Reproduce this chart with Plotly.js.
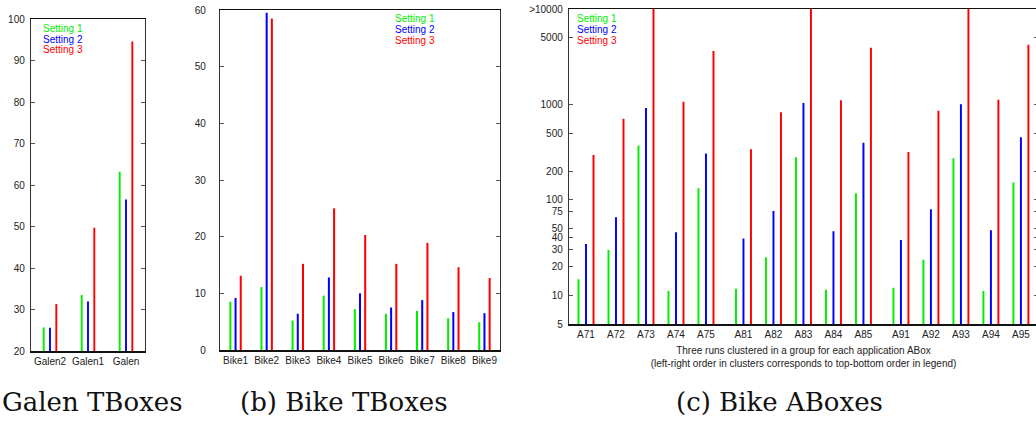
<!DOCTYPE html>
<html>
<head>
<meta charset="utf-8">
<script src="https://cdn.plot.ly/plotly-3.0.1.min.js"></script>
<style>
html, body { margin: 0; padding: 0; background: #fff; overflow: hidden; }
#chart { width: 1040px; height: 422px; }
</style>
</head>
<body>
<div id="chart"></div>
<script>
// ---- Data ----
const seriesNames = ['Setting 1', 'Setting 2', 'Setting 3'];
const seriesColors = ['#00ee00', '#0000ff', '#ff0000'];

const galenCats = ['Galen2', 'Galen1', 'Galen'];
const galenS1 = [25.7, 33.5, 63.2];
const galenS2 = [25.6, 31.9, 56.5];
const galenS3 = [31.3, 49.7, 94.6];

const bikeCats = ['Bike1', 'Bike2', 'Bike3', 'Bike4', 'Bike5', 'Bike6', 'Bike7', 'Bike8', 'Bike9'];
const bikeS1 = [8.5, 11.1, 5.2, 9.6, 7.2, 6.4, 6.9, 5.6, 4.9];
const bikeS2 = [9.2, 59.5, 6.4, 12.8, 10.0, 7.5, 8.8, 6.7, 6.5];
const bikeS3 = [13.1, 58.5, 15.2, 25.0, 20.3, 15.2, 18.9, 14.6, 12.7];

const aboxCats = ['A71', 'A72', 'A73', 'A74', 'A75',
                  'A81', 'A82', 'A83', 'A84', 'A85',
                  'A91', 'A92', 'A93', 'A94', 'A95'];
// 10000 stands for ">10000" (clipped at the top of the axis)
const aboxS1 = [14.7, 29.9, 371, 11.1, 132, 11.7, 25, 280, 11.4, 117, 12.0, 23.5, 273, 11.1, 152];
const aboxS2 = [34.5, 65.7, 915, 45.8, 306, 39.3, 76.6, 1032, 46.9, 396, 38, 79.8, 1007, 48, 454];
const aboxS3 = [296, 707, 10000, 1066, 3622, 340, 830, 10000, 1109, 3926, 318, 857, 10000, 1118, 4222];

const aboxTickVals = [5, 10, 20, 30, 40, 50, 75, 100, 200, 500, 1000, 5000, 10000];
const aboxTickText = ['5', '10', '20', '30', '40', '50', '75', '100', '200', '500', '1000', '5000', '>10000'];

const captions = ['Galen TBoxes', '(b) Bike TBoxes', '(c) Bike ABoxes'];
const aboxTitle = 'Three runs clustered in a group for each application ABox<br>(left-right order in clusters corresponds to top-bottom order in legend)';

// ---- Geometry helpers ----
const W = 1040, H = 422;
const px = v => v / W;
const py = v => 1 - v / H;

const galenX = galenCats.map((c, i) => i);
const bikeX = bikeCats.map((c, i) => i);
const perGroup = 5, groupGap = 0.25;
const aboxX = aboxCats.map((c, i) => Math.floor(i / perGroup) * (perGroup + groupGap) + (i % perGroup));

function barTraces(xs, seriesList, xa, ya, spread, w) {
  return seriesList.map((vals, k) => ({
    type: 'bar',
    x: xs,
    y: vals,
    name: seriesNames[k],
    xaxis: xa,
    yaxis: ya,
    width: w,
    offset: (k - 1) * spread - w / 2,
    marker: { color: seriesColors[k], line: { width: 0 } },
    showlegend: false,
    hoverinfo: 'x+y+name'
  }));
}

const traces = [].concat(
  barTraces(galenX, [galenS1, galenS2, galenS3], 'x', 'y', 0.166, 0.05),
  barTraces(bikeX, [bikeS1, bikeS2, bikeS3], 'x2', 'y2', 0.167, 0.065),
  barTraces(aboxX, [aboxS1, aboxS2, aboxS3], 'x3', 'y3', 0.25, 0.065)
);

const tickFont = { family: 'Liberation Sans, Arial, sans-serif', size: 10, color: '#222' };
const frame = { showline: true, linecolor: '#333', linewidth: 1.2, mirror: true, showgrid: false, zeroline: false };

function xAxis(domain, anchor, vals, text, range) {
  return Object.assign({}, frame, {
    domain: domain, anchor: anchor, range: range, tickmode: 'array', tickvals: vals, ticktext: text,
    ticks: '', tickfont: tickFont, fixedrange: true, linecolor: '#111', linewidth: 1.5
  });
}
function yAxis(domain, anchor, extra) {
  return Object.assign({}, frame, {
    domain: domain, anchor: anchor, ticks: 'inside', ticklen: 4, tickwidth: 1, tickcolor: '#555',
    mirror: 'ticks', tickfont: tickFont, fixedrange: true
  }, extra);
}

const annotations = [];
function legendAt(x0, ys) {
  seriesNames.forEach((n, k) => {
    annotations.push({
      xref: 'paper', yref: 'paper', x: px(x0), y: py(ys[k]),
      xanchor: 'left', yanchor: 'middle', showarrow: false,
      text: n, font: { family: 'Liberation Sans, Arial, sans-serif', size: 10, color: seriesColors[k] }
    });
  });
}
legendAt(41, [28.3, 39, 49.7]);
legendAt(393, [19, 29.5, 40.3]);
legendAt(575, [19, 29.5, 40.3]);

const capCenters = [92, 344, 779];
captions.forEach((c, i) => {
  annotations.push({
    xref: 'paper', yref: 'paper', x: px(capCenters[i]), y: py(402),
    xanchor: 'center', yanchor: 'middle', showarrow: false,
    text: c, font: { family: 'DejaVu Serif, serif', size: 26, color: '#111' }
  });
});

const layout = {
  width: W, height: H,
  margin: { l: 0, r: 0, t: 0, b: 0 },
  paper_bgcolor: '#fff', plot_bgcolor: '#fff',
  barmode: 'overlay',
  showlegend: false,
  xaxis: xAxis([px(31), px(145)], 'y', galenX, galenCats, [-0.5, 2.5]),
  yaxis: yAxis([py(351), py(19)], 'x', { range: [20, 100], dtick: 10, ticklabelstandoff: 3 }),
  xaxis2: xAxis([px(220), px(500)], 'y2', bikeX, bikeCats, [-0.5, 8.5]),
  yaxis2: yAxis([py(350), py(10)], 'x2', { range: [0, 60], dtick: 10, ticklabelstandoff: 11 }),
  xaxis3: Object.assign(xAxis([px(569), px(1038)], 'y3', aboxX, aboxCats, [-0.567, 15.07]), {
    title: { text: aboxTitle, font: { family: 'Liberation Sans, Arial, sans-serif', size: 10, color: '#222' }, standoff: 8 }
  }),
  yaxis3: yAxis([py(324), py(9)], 'x3', {
    type: 'log', range: [Math.log10(5), 4], tickmode: 'array',
    tickvals: aboxTickVals, ticktext: aboxTickText, ticklabelstandoff: 3
  }),
  annotations: annotations
};

Plotly.newPlot('chart', traces, layout, { displayModeBar: false, staticPlot: true });
</script>
</body>
</html>
